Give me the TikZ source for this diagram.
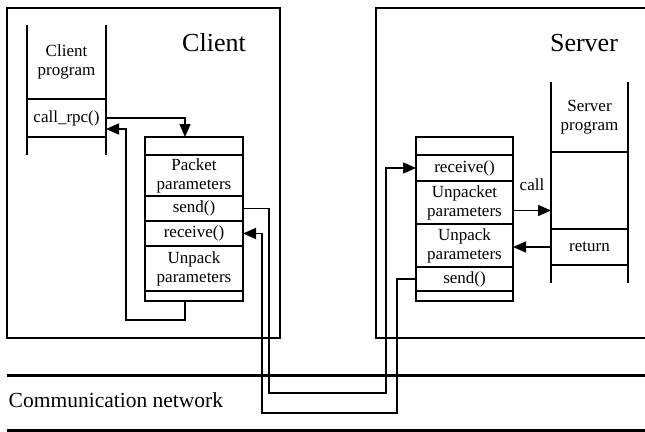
\documentclass[tikz,border=0pt]{standalone}
\usepackage{fontspec}
\setmainfont{Liberation Serif}
\usepackage{tikz}
\usetikzlibrary{arrows.meta, positioning}
\newcommand\cellfont{\fontsize{17}{19}\selectfont}
\newcommand\headfont{\fontsize{26}{30}\selectfont}
\newcommand\netfont{\fontsize{21.5}{24}\selectfont}
\tikzstyle{cell1} = [rectangle, draw, outer sep=0pt, inner sep=0pt, align=center, font=\cellfont, minimum width=98pt]
\tikzstyle{cell2} = [cell1, minimum width=97pt]
\tikzstyle{prog1} = [rectangle, outer sep=0pt, inner sep=0pt, align=center, font=\cellfont, minimum width=79pt]
\tikzstyle{prog2} = [prog1, minimum width=77pt]
\tikzstyle{arrow} = [-{Triangle[length=13pt, width=11pt]}]
\tikzstyle{net} = [line width=3pt]
\begin{document}
\begin{tikzpicture}[x=1pt, y=-1pt, line width=1.5pt, node distance = 0cm]
\useasboundingbox (0,0) rectangle (645,431);

% frames
\draw (7,8) rectangle (280,338);
\draw (645,8) -| (376,338) -- (645,338);
\node(CT)[font=\headfont, inner sep=0pt] at (214,43) {Client};
\node(ST)[font=\headfont, inner sep=0pt] at (584,43) {Server};

% client program
\node(P0)[prog1, minimum height=74pt] at (66.5,62) {Client\\program};
\node(P1)[prog1, below = of P0, minimum height=38pt]{call\_rpc()};
\node(P2)[prog1, below = of P1, minimum height=18pt]{};
\draw (P0.north west) -- (P2.south west);
\draw (P0.north east) -- (P2.south east);
\draw (P1.north west) -- (P1.north east);
\draw (P1.south west) -- (P1.south east);

% client stub
\node(C0)[cell1, minimum height=18pt] at (194,146) {};
\node(C1)[cell1, below = of C0, minimum height=41pt]{Packet\\parameters};
\node(C2)[cell1, below = of C1, minimum height=25pt]{send()};
\node(C3)[cell1, below = of C2, minimum height=25pt]{receive()};
\node(C4)[cell1, below = of C3, minimum height=45pt]{Unpack\\parameters};
\node(C5)[cell1, below = of C4, minimum height=10pt]{};

% server stub
\node(S0)[cell2, minimum height=18pt] at (464.5,146) {};
\node(S1)[cell2, below = of S0, minimum height=26pt]{receive()};
\node(S2)[cell2, below = of S1, minimum height=43pt]{Unpacket\\parameters};
\node(S3)[cell2, below = of S2, minimum height=43pt]{Unpack\\parameters};
\node(S4)[cell2, below = of S3, minimum height=24pt]{send()};
\node(S5)[cell2, below = of S4, minimum height=10pt]{};

% server program
\node(Q0)[prog2, minimum height=70pt] at (589.5,117) {Server\\program};
\node(Q1)[prog2, below = of Q0, minimum height=77pt]{};
\node(Q2)[prog2, below = of Q1, minimum height=36pt]{return};
\node(Q3)[prog2, below = of Q2, minimum height=18pt]{};
\draw (Q0.north west) -- (Q3.south west);
\draw (Q0.north east) -- (Q3.south east);
\draw (Q1.north west) -- (Q1.north east);
\draw (Q2.north west) -- (Q2.north east);
\draw (Q2.south west) -- (Q2.south east);

% network
\draw[net] (7,375) -- (645,375);
\draw[net] (7,430) -- (645,430);
\node(N)[anchor=west, font=\netfont, inner sep=0pt] at (8,400) {Communication network};

\draw [arrow] (P1.east) -| ([xshift=-9pt]C0.north);
\draw [arrow] ([xshift=-9pt]C5.south) |- (126,320) |- ([yshift=-11pt]P1.east);
\draw [arrow] (C2.east) -| (269,393) -| ([xshift=-30pt]S1.west) -- (S1.west);
\draw [arrow] (S4.west) -| (397,413) -| ([xshift=19pt]C3.east) -- (C3.east);
\draw [arrow] ([yshift=-8pt]S2.east) -- node[above=19pt, inner sep=0pt, font=\cellfont]{call} ([yshift=-8pt]S2.east -| Q1.west);
\draw [arrow] (Q2.west) -- (Q2.west -| S3.east);

\end{tikzpicture}
\end{document}
